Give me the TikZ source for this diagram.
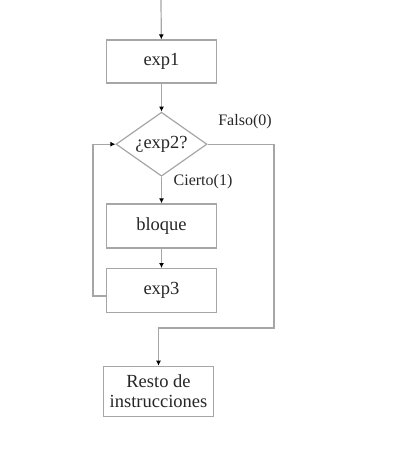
\documentclass[tikz,border=0pt]{standalone}
\usepackage{fontspec}
\setmainfont{Liberation Serif}
\usetikzlibrary{arrows.meta,positioning,shapes.geometric}
\tikzstyle{proceso}=[
	rectangle,
	draw=gray!70,
	line width=1.2pt,
	text=black!85,
	font=\fontsize{18.5}{20}\selectfont,
	minimum width=110pt,
	minimum height=44pt,
	inner sep=2pt,
	align=center
]
\tikzstyle{decision}=[
	diamond,
	aspect=1.42,
	draw=gray!70,
	line width=1.2pt,
	text=black!85,
	font=\fontsize{18.5}{20}\selectfont,
	minimum width=91pt,
	minimum height=64pt,
	inner sep=0pt
]
\tikzstyle{flujo}=[
	-{Latex[length=5pt,width=5pt,black]},
	draw=gray!70,
	line width=1.2pt
]
\tikzstyle{etiqueta}=[
	text=black!85,
	font=\fontsize{16}{18}\selectfont,
	inner sep=0pt
]

\begin{document}
\begin{tikzpicture}
\useasboundingbox (0,0) rectangle (400pt,-460pt);
\node [proceso, minimum height=43pt] (exp1) at (161.5pt,-61.5pt) {exp1};
\node [decision] (cond) [below=28pt of exp1] {¿exp2?};
\node [proceso] (bloque) [below=26.5pt of cond] {bloque};
\node [proceso] (exp3) [below=19.5pt of bloque] {exp3};
\node [proceso, minimum height=50pt, xshift=-3pt] (resto) [below=52.5pt of exp3] {Resto de\\instrucciones};
% esquinas de las lineas
\coordinate (entrada) at (161pt,0pt);
\coordinate (dcha) at (274pt,-328pt);
\coordinate (izq) at (93pt,-296pt);
\draw [flujo] (entrada) -- (exp1);
\draw [flujo] (exp1) -- (cond);
\draw [flujo] (cond) -- (bloque);
\draw [flujo] (bloque) -- (exp3);
\draw [flujo] (cond.east) -| (dcha) -| (resto.north);
\draw [flujo] (exp3.west |- izq) -- (izq) |- (cond.west);
\node [etiqueta] (falso) at (245pt,-122pt) {Falso(0)};
\node [etiqueta] (cierto) at (203pt,-182pt) {Cierto(1)};
\end{tikzpicture}
\end{document}
